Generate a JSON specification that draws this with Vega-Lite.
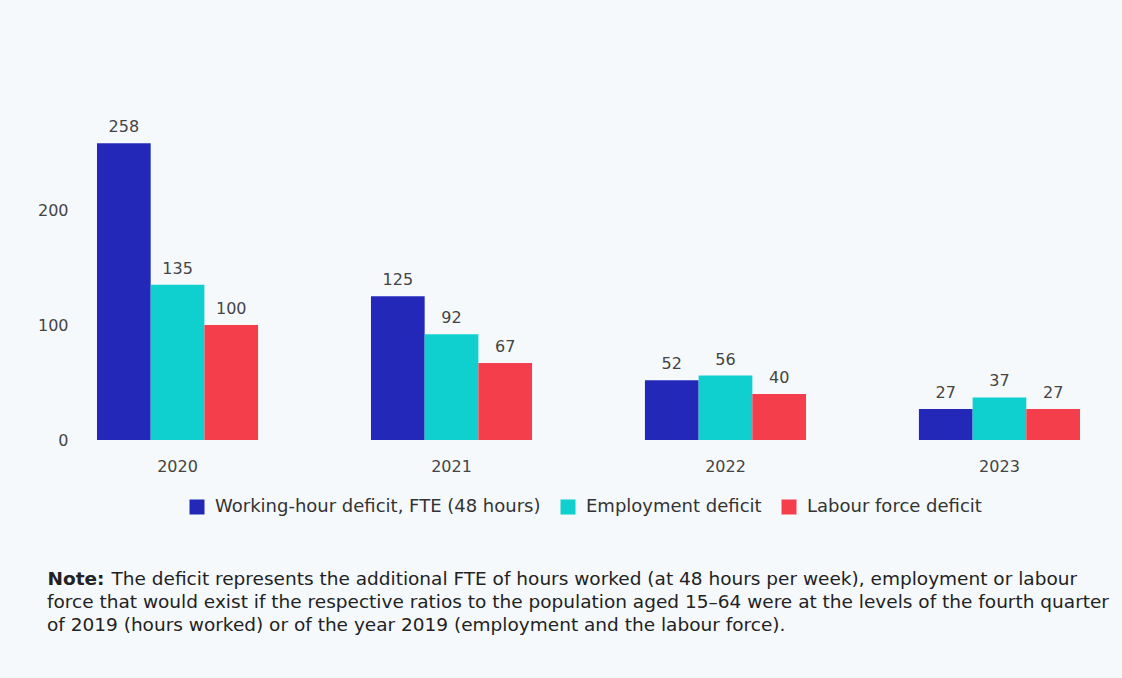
{
  "$schema": "https://vega.github.io/schema/vega-lite/v6.json",
  "width": 1017,
  "height": 345,
  "autosize": {"type": "none"},
  "padding": {"left": 80, "top": 95, "right": 25, "bottom": 238},
  "background": "#f5f9fc",
  "config": {
    "view": {"stroke": null},
    "font": "DejaVu Sans",
    "axis": {"labelFont": "DejaVu Sans", "labelFontSize": 16, "labelColor": "#444444", "titleFont": "DejaVu Sans", "titleFontSize": 18.5, "titleColor": "#222222"},
    "legend": {"labelFont": "DejaVu Sans", "labelFontSize": 18, "labelColor": "#333333"}
  },
  "data": {
    "values": [
      {"year": "2020", "series": "Working-hour deficit, FTE (48 hours)", "value": 258},
      {"year": "2020", "series": "Employment deficit", "value": 135},
      {"year": "2020", "series": "Labour force deficit", "value": 100},
      {"year": "2021", "series": "Working-hour deficit, FTE (48 hours)", "value": 125},
      {"year": "2021", "series": "Employment deficit", "value": 92},
      {"year": "2021", "series": "Labour force deficit", "value": 67},
      {"year": "2022", "series": "Working-hour deficit, FTE (48 hours)", "value": 52},
      {"year": "2022", "series": "Employment deficit", "value": 56},
      {"year": "2022", "series": "Labour force deficit", "value": 40},
      {"year": "2023", "series": "Working-hour deficit, FTE (48 hours)", "value": 27},
      {"year": "2023", "series": "Employment deficit", "value": 37},
      {"year": "2023", "series": "Labour force deficit", "value": 27}
    ]
  },
  "title": {
    "text": [
      "force that would exist if the respective ratios to the population aged 15–64 were at the levels of the fourth quarter",
      "of 2019 (hours worked) or of the year 2019 (employment and the labour force)."
    ],
    "orient": "bottom",
    "anchor": "start",
    "frame": "group",
    "dx": -33,
    "offset": 5,
    "font": "DejaVu Sans",
    "fontSize": 18.5,
    "fontWeight": "normal",
    "color": "#222222",
    "lineHeight": 22.5,
    "limit": 1100
  },
  "encoding": {
    "x": {
      "field": "year", "type": "nominal",
      "title": "Note:",
      "scale": {"paddingInner": 0.412, "paddingOuter": 0.062},
      "axis": {
        "labelAngle": 0, "ticks": false, "domain": false, "labelPadding": 18,
        "titleFontWeight": "bold", "titleX": -33, "titleY": 144.5,
        "titleAlign": "left", "titleBaseline": "alphabetic", "titleAnchor": "start"
      }
    },
    "xOffset": {
      "field": "series", "type": "nominal",
      "sort": ["Working-hour deficit, FTE (48 hours)", "Employment deficit", "Labour force deficit"],
      "scale": {"paddingInner": 0, "paddingOuter": 0}
    },
    "y": {
      "field": "value", "type": "quantitative",
      "title": "The deficit represents the additional FTE of hours worked (at 48 hours per week), employment or labour",
      "scale": {"domain": [0, 300], "nice": false},
      "axis": {
        "values": [0, 100, 200], "grid": false, "ticks": false, "domain": false, "labelPadding": 12,
        "titleFontWeight": "normal", "titleAngle": 0, "titleX": 31, "titleY": 489.5,
        "titleAlign": "left", "titleBaseline": "alphabetic", "titleAnchor": "start", "titleLimit": 1100
      }
    }
  },
  "layer": [
    {
      "mark": {"type": "bar"},
      "encoding": {
        "color": {
          "field": "series", "type": "nominal",
          "scale": {
            "domain": ["Working-hour deficit, FTE (48 hours)", "Employment deficit", "Labour force deficit"],
            "range": ["#2328b8", "#10cfcf", "#f53e4c"]
          },
          "legend": {
            "title": null, "orient": "none", "direction": "horizontal",
            "legendX": 108, "legendY": 403,
            "symbolType": "square", "symbolSize": 225, "symbolStrokeWidth": 0,
            "labelOffset": 9, "columnPadding": 18, "labelLimit": 400
          }
        }
      }
    },
    {
      "mark": {"type": "text", "baseline": "bottom", "dy": -8, "fontSize": 16, "color": "#444444", "font": "DejaVu Sans"},
      "encoding": {"text": {"field": "value", "type": "quantitative"}}
    }
  ]
}
